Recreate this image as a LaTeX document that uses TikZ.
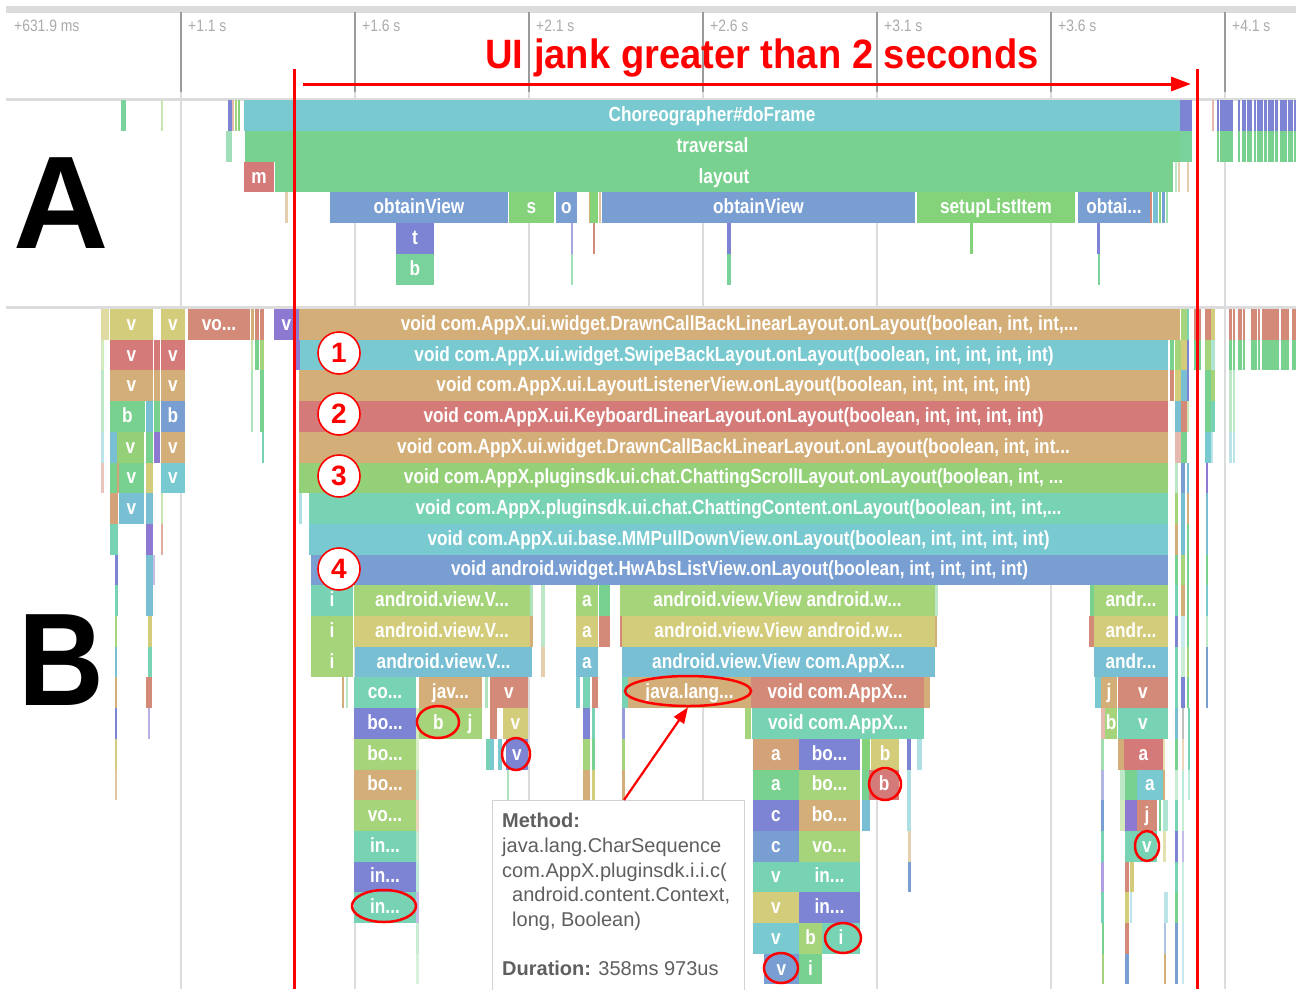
\documentclass[tikz,border=0pt]{standalone}
\usepackage{fontspec}
\setmainfont{Liberation Sans}
\newfontfamily\condfont[FakeStretch=0.84]{Liberation Sans}
\newfontfamily\titlefont[FakeStretch=0.93]{Liberation Sans}
\usetikzlibrary{shapes.geometric,arrows.meta}

% flame-chart palette
\definecolor{cCyan}{HTML}{78C9D0}
\definecolor{cGreen}{HTML}{79D18F}
\definecolor{cMint}{HTML}{79D19B}
\definecolor{cRed}{HTML}{D47A78}
\definecolor{cSalmon}{HTML}{D48A78}
\definecolor{cTan}{HTML}{D4AE78}
\definecolor{cOrange}{HTML}{D4A278}
\definecolor{cBlue}{HTML}{799ED2}
\definecolor{cIndigo}{HTML}{7C84D3}
\definecolor{cViolet}{HTML}{8D79D1}
\definecolor{cLime}{HTML}{84D27A}
\definecolor{cLGreen}{HTML}{94D078}
\definecolor{cYG}{HTML}{A6D47A}
\definecolor{cOlive}{HTML}{D3CC7A}
\definecolor{cCB}{HTML}{79BFD3}
\definecolor{cTeal}{HTML}{78D2B4}
\definecolor{jank}{HTML}{FF0000}
\definecolor{tickgray}{HTML}{9A9A9A}
\definecolor{gridgray}{HTML}{DCDCDC}
\definecolor{labelgray}{HTML}{ABABAB}
\definecolor{tiptext}{HTML}{5F5F5F}

\newcommand\lblfont{\condfont\bfseries\fontsize{20.5}{20.5}\selectfont}
\newcounter{fbn}

% section A rows start at 100, section B rows at 309
\newcommand\barA[5]{\fill[#4] (#1,{100+(#3)*30.8}) rectangle (#2,{100+(#3+1)*30.8});
  \stepcounter{fbn}\node[lbl] (fb\arabic{fbn}) at ({(#1+#2)/2},{100+(#3+0.5)*30.8+6}) {#5};}
\newcommand\slA[4]{\fill[#4] (#1,{100+(#3)*30.8}) rectangle (#2,{100+(#3+1)*30.8});}
\newcommand\barB[5]{\fill[#4] (#1,{309+(#3)*30.7}) rectangle (#2,{309+(#3+1)*30.7});
  \stepcounter{fbn}\node[lbl] (fb\arabic{fbn}) at ({(#1+#2)/2},{309+(#3+0.5)*30.7+6}) {#5};}
\newcommand\slB[4]{\fill[#4] (#1,{309+(#3)*30.7}) rectangle (#2,{309+(#3+1)*30.7});}

\begin{document}
\begin{tikzpicture}[x=1pt,y=-1pt,
  lbl/.style={text=white,font=\lblfont,inner sep=0pt,anchor=base},
  ticklbl/.style={text=labelgray,font=\condfont\fontsize{16.5}{16.5}\selectfont,anchor=base west,inner sep=0pt},
  numc/.style={circle,draw=jank,line width=1.6pt,fill=white,minimum size=42pt,inner sep=0pt,
    text=jank,font=\bfseries\fontsize{28}{28}\selectfont},
  ring/.style={ellipse,draw=jank,line width=2.5pt,inner sep=0pt},
  tiptxt/.style={text=tiptext,font=\fontsize{20}{20}\selectfont,anchor=base west,inner sep=0pt},
  bigletter/.style={font=\bfseries\fontsize{132}{132}\selectfont,inner sep=0pt,anchor=base}]

\useasboundingbox (0,0) rectangle (1296,989);
\clip (0,0) rectangle (1296,989);
\fill[white] (0,0) rectangle (1296,989);

% ---- time axis ----
\fill[gridgray] (6,6) rectangle (1296,12.5);
\foreach \x in {181,355,529,703,877,1051,1225}{
  \draw[tickgray,line width=1.3pt] (\x,12) -- (\x,92);
  \draw[gridgray,line width=1.3pt] (\x,92) -- (\x,989);
}
\node[ticklbl] (t0) at (14,31) {+631.9 ms};
\node[ticklbl] (t1) at (188,31) {+1.1 s};
\node[ticklbl] (t2) at (362,31) {+1.6 s};
\node[ticklbl] (t3) at (536,31) {+2.1 s};
\node[ticklbl] (t4) at (710,31) {+2.6 s};
\node[ticklbl] (t5) at (884,31) {+3.1 s};
\node[ticklbl] (t6) at (1058,31) {+3.6 s};
\node[ticklbl] (t7) at (1232,31) {+4.1 s};
\fill[gridgray] (6,97.5) rectangle (1296,100.5);
\fill[gridgray] (6,305.5) rectangle (1296,308.5);

% ---- section A: main thread frame ----
\slA{121}{126}{0}{cMint}
\slA{161}{163}{0}{cYG!60}
\slA{228}{232}{0}{cIndigo}
\slA{232}{234}{0}{cSalmon!60}
\slA{235}{237}{0}{cYG}
\slA{238}{240}{0}{cLime}
\barA{244}{1180}{0}{cCyan}{Choreographer\#doFrame}
\slA{1180}{1192}{0}{cIndigo}
\slA{1212}{1214}{0}{cSalmon!60}
\foreach \a/\b in {1217/1219,1220/1233,1238/1240,1242/1246,1247/1252,1254/1256,1257/1263,1264/1267,1268/1274,1275/1278,1280/1287,1288/1293,1294/1296}{
  \slA{\a}{\b}{0}{cIndigo}
  \slA{\a}{\b}{1}{cGreen}
}
\slA{226}{232}{1}{cMint!70}
\barA{245}{1180}{1}{cGreen}{traversal}
\slA{1180}{1192}{1}{cMint}
\barA{244}{274}{2}{cRed}{m}
\barA{275}{1173}{2}{cGreen}{layout}
\slA{1175}{1177}{2}{cGreen!50}
\slA{1178}{1180}{2}{cTan!60}
\slA{1187}{1189}{2}{cTan!60}
\slA{285}{288}{3}{cTan!60}
\barA{330}{508}{3}{cBlue}{obtainView}
\barA{509}{554}{3}{cLime}{s}
\barA{556}{577}{3}{cBlue}{o}
\slA{589}{590}{3}{cTan}
\slA{590}{598}{3}{cLime}
\slA{599}{601}{3}{cTan!70}
\barA{602}{915}{3}{cBlue}{obtainView}
\barA{917}{1075}{3}{cLime}{setupListItem}
\barA{1078}{1150}{3}{cBlue}{obtai...}
\slA{1150}{1152}{3}{cSalmon}
\slA{1153}{1158}{3}{cCB}
\slA{1159}{1161}{3}{cLime}
\slA{1162}{1165}{3}{cBlue}
\slA{1166}{1168}{3}{cGreen!70}
\barA{396}{434}{4}{cIndigo}{t}
\barA{396}{434}{5}{cMint}{b}
\slA{571}{573}{4}{cIndigo!70}
\slA{571}{573}{5}{cMint!70}
\slA{593}{595}{4}{cSalmon}
\slA{727}{731}{4}{cIndigo}
\slA{727}{731}{5}{cMint}
\slA{970}{973}{4}{cLime}
\slA{1097}{1100}{4}{cIndigo}
\slA{1098}{1100}{5}{cMint}

% ---- section B: method trace ----
% left cluster
\slB{101}{109}{0}{cOlive!70}
\slB{101}{104}{1}{cYG!50}
\slB{101}{104}{2}{cGreen!50}
\slB{101}{104}{3}{cGreen!50}
\slB{101}{104}{4}{cCyan!50}
\slB{101}{104}{5}{cSalmon!50}
\barB{110}{153}{0}{cOlive}{v}
\barB{161}{185}{0}{cOlive}{v}
\barB{188}{250}{0}{cSalmon}{vo...}
\slB{251}{254}{0}{cTan}
\slB{255}{259}{0}{cSalmon}
\slB{260}{264}{0}{cSalmon}
\barB{274}{299}{0}{cViolet}{v}
\barB{110}{153}{1}{cRed}{v}
\slB{154}{160}{1}{cRed}
\barB{161}{185}{1}{cRed}{v}
\slB{251}{253}{1}{cYG!60}
\slB{255}{259}{1}{cGreen}
\slB{260}{264}{1}{cYG}
\slB{295}{300}{1}{cViolet}
\barB{110}{153}{2}{cTan}{v}
\slB{154}{160}{2}{cTan}
\barB{161}{185}{2}{cTan}{v}
\slB{251}{253}{2}{cGreen!60}
\slB{260}{264}{2}{cGreen}
\barB{110}{145}{3}{cGreen}{b}
\slB{146}{153}{3}{cCB}
\slB{154}{160}{3}{cGreen}
\barB{161}{185}{3}{cBlue}{b}
\slB{251}{253}{3}{cGreen!60}
\slB{260}{264}{3}{cGreen}
\slB{110}{117}{4}{cCB}
\barB{117}{144}{4}{cLGreen}{v}
\slB{146}{153}{4}{cGreen}
\slB{154}{160}{4}{cViolet}
\barB{161}{185}{4}{cTan}{v}
\slB{262}{264}{4}{cTeal}
\slB{110}{117}{5}{cGreen}
\slB{117}{119}{5}{cOrange}
\barB{119}{144}{5}{cGreen}{v}
\slB{146}{153}{5}{cOlive}
\barB{161}{185}{5}{cCyan}{v}
\slB{110}{118}{6}{cOrange}
\barB{119}{144}{6}{cCB}{v}
\slB{146}{153}{6}{cCB}
\slB{161}{163}{6}{cYG!60}
\slB{110}{118}{7}{cTeal}
\slB{146}{153}{7}{cViolet}
\slB{161}{163}{7}{cSalmon!70}
\slB{115}{118}{8}{cIndigo}
\slB{146}{153}{8}{cCB}
\slB{153}{155}{8}{cViolet!50}
\slB{115}{118}{9}{cTeal}
\slB{146}{153}{9}{cCB}
\slB{115}{117}{10}{cYG}
\slB{148}{152}{10}{cOlive}
\slB{115}{117}{11}{cCB}
\slB{148}{152}{11}{cTeal}
\slB{115}{117}{12}{cTan}
\slB{146}{152}{12}{cSalmon}
\slB{115}{117}{13}{cIndigo}
\slB{148}{150}{13}{cViolet!60}
\slB{115}{117}{14}{cOlive}
\slB{115}{117}{15}{cTan!70}

% deep stack of onLayout calls
\barB{299}{1180}{0}{cTan}{void com.AppX.ui.widget.DrawnCallBackLinearLayout.onLayout(boolean, int, int,...}
\barB{300}{1168}{1}{cCyan}{void com.AppX.ui.widget.SwipeBackLayout.onLayout(boolean, int, int, int, int)}
\barB{299}{1168}{2}{cTan}{void com.AppX.ui.LayoutListenerView.onLayout(boolean, int, int, int, int)}
\barB{299}{1168}{3}{cRed}{void com.AppX.ui.KeyboardLinearLayout.onLayout(boolean, int, int, int, int)}
\barB{299}{1168}{4}{cTan}{void com.AppX.ui.widget.DrawnCallBackLinearLayout.onLayout(boolean, int, int...}
\barB{299}{1168}{5}{cLGreen}{void com.AppX.pluginsdk.ui.chat.ChattingScrollLayout.onLayout(boolean, int, ...}
\slB{299}{302}{6}{cCyan!60}
\barB{309}{1168}{6}{cTeal}{void com.AppX.pluginsdk.ui.chat.ChattingContent.onLayout(boolean, int, int,...}
\barB{309}{1168}{7}{cCyan}{void com.AppX.ui.base.MMPullDownView.onLayout(boolean, int, int, int, int)}
\barB{311}{1168}{8}{cBlue}{void android.widget.HwAbsListView.onLayout(boolean, int, int, int, int)}

% list children, left column
\barB{311}{353}{9}{cTeal}{i}
\barB{354}{530}{9}{cYG}{android.view.V...}
\slB{530}{533}{9}{cGreen!60}
\slB{541}{545}{9}{cGreen!50}
\barB{311}{353}{10}{cYG}{i}
\barB{354}{530}{10}{cOlive}{android.view.V...}
\slB{530}{533}{10}{cTan}
\slB{541}{545}{10}{cGreen!50}
\barB{311}{353}{11}{cYG}{i}
\barB{355}{532}{11}{cCB}{android.view.V...}
\slB{541}{545}{11}{cTan!60}
\slB{342}{344}{12}{cTan}
\slB{346}{348}{12}{cGreen!50}
\barB{354}{416}{12}{cTeal}{co...}
\barB{419}{482}{12}{cTan}{jav...}
\slB{485}{488}{12}{cGreen!60}
\barB{490}{528}{12}{cSalmon}{v}
\barB{354}{416}{13}{cIndigo}{bo...}
\barB{419}{458}{13}{cYG}{b}
\barB{458}{482}{13}{cYG}{j}
\slB{490}{497}{13}{cSalmon}
\barB{503}{528}{13}{cOlive}{v}
\barB{354}{416}{14}{cYG}{bo...}
\slB{486}{490}{14}{cTeal}
\slB{490}{494}{14}{cCyan}
\slB{498}{502}{14}{cCyan}
\barB{506}{528}{14}{cIndigo}{v}
\barB{354}{416}{15}{cTan}{bo...}
\slB{507}{509}{15}{cGreen!60}
\barB{354}{416}{16}{cYG}{vo...}
\barB{354}{416}{17}{cTeal}{in...}
\barB{354}{416}{18}{cIndigo}{in...}
\barB{354}{416}{19}{cTeal}{in...}
\foreach \r/\c in {13/cYG!50,14/cYG!40,15/cGreen!50,16/cTan!50,17/cGreen!40,18/cTeal!50,19/cViolet!50,20/cGreen!40,21/cGreen!30}{
  \slB{416}{419}{\r}{\c}
}

% list children, middle columns
\barB{576}{598}{9}{cYG}{a}
\slB{599}{610}{9}{cGreen}
\barB{576}{598}{10}{cOlive}{a}
\slB{599}{610}{10}{cSalmon}
\barB{576}{598}{11}{cCB}{a}
\slB{576}{580}{12}{cCyan}
\slB{583}{590}{12}{cTeal}
\slB{592}{598}{12}{cSalmon}
\slB{583}{590}{13}{cIndigo}
\slB{592}{595}{13}{cTeal}
\slB{583}{590}{14}{cYG}
\slB{592}{595}{14}{cGreen}
\slB{583}{590}{15}{cTan}
\slB{592}{595}{15}{cOlive}
\barB{620}{935}{9}{cYG}{android.view.View android.w...}
\slB{935}{938}{9}{cGreen!50}
\slB{620}{622}{10}{cSalmon}
\barB{622}{935}{10}{cOlive}{android.view.View android.w...}
\slB{935}{937}{10}{cTan}
\barB{622}{935}{11}{cCB}{android.view.View com.AppX...}
\slB{622}{628}{12}{cTeal}
\barB{628}{751}{12}{cTan}{java.lang...}
\barB{751}{924}{12}{cSalmon}{void com.AppX...}
\slB{924}{930}{12}{cTan}
\slB{622}{625}{13}{cIndigo!80}
\slB{622}{625}{14}{cYG}
\slB{622}{625}{15}{cTan}
\slB{745}{751}{13}{cYG}
\barB{752}{924}{13}{cTeal}{void com.AppX...}
\barB{753}{799}{14}{cOrange}{a}
\barB{799}{860}{14}{cIndigo}{bo...}
\slB{862}{870}{14}{cLime}
\barB{871}{899}{14}{cOlive}{b}
\barB{753}{799}{15}{cGreen}{a}
\barB{799}{860}{15}{cYG}{bo...}
\slB{862}{870}{15}{cGreen}
\barB{869}{899}{15}{cRed}{b}
\barB{753}{799}{16}{cIndigo}{c}
\barB{799}{860}{16}{cTan}{bo...}
\slB{862}{870}{16}{cCB}
\barB{753}{799}{17}{cBlue}{c}
\barB{799}{860}{17}{cYG}{vo...}
\barB{753}{799}{18}{cTeal}{v}
\barB{799}{860}{18}{cTeal}{in...}
\barB{753}{799}{19}{cOlive}{v}
\barB{799}{860}{19}{cIndigo}{in...}
\barB{753}{799}{20}{cCyan}{v}
\barB{799}{822}{20}{cYG}{b}
\barB{822}{860}{20}{cTeal}{i}
\barB{764}{799}{21}{cBlue}{v}
\barB{799}{822}{21}{cGreen}{i}
\slB{907}{911}{14}{cIndigo}
\slB{917}{922}{14}{cCyan!60}
\slB{907}{911}{15}{cCyan!60}
\slB{907}{911}{16}{cCyan!60}
\slB{908}{911}{17}{cTan!60}
\slB{908}{911}{18}{cBlue}

% list children, right column
\slB{1090}{1094}{9}{cGreen}
\barB{1094}{1168}{9}{cYG}{andr...}
\slB{1089}{1094}{10}{cSalmon}
\barB{1094}{1168}{10}{cOlive}{andr...}
\barB{1094}{1168}{11}{cCB}{andr...}
\slB{1095}{1101}{12}{cCyan}
\barB{1101}{1117}{12}{cTan}{j}
\barB{1118}{1168}{12}{cSalmon}{v}
\slB{1101}{1105}{13}{cSalmon!60}
\barB{1105}{1117}{13}{cYG}{b}
\barB{1118}{1168}{13}{cTeal}{v}
\slB{1101}{1104}{14}{cGreen!70}
\slB{1118}{1124}{14}{cTan}
\barB{1124}{1163}{14}{cRed}{a}
\slB{1163}{1165}{14}{cOlive!60}
\slB{1101}{1104}{15}{cIndigo!60}
\slB{1120}{1125}{15}{cGreen!50}
\slB{1125}{1137}{15}{cGreen}
\barB{1137}{1163}{15}{cCyan}{a}
\slB{1163}{1165}{15}{cTan}
\slB{1101}{1104}{16}{cBlue}
\slB{1120}{1125}{16}{cYG!50}
\slB{1125}{1137}{16}{cViolet}
\barB{1137}{1157}{16}{cSalmon}{j}
\slB{1159}{1161}{16}{cGreen}
\slB{1163}{1168}{16}{cTeal!60}
\slB{1101}{1104}{17}{cTeal}
\slB{1125}{1137}{17}{cTeal}
\barB{1137}{1157}{17}{cTeal}{v}
\slB{1163}{1166}{17}{cOlive!60}
\slB{1101}{1104}{18}{cViolet!70}
\slB{1125}{1129}{18}{cSalmon}
\slB{1130}{1134}{18}{cOlive}
\slB{1101}{1104}{19}{cTeal}
\slB{1125}{1129}{19}{cOlive}
\slB{1130}{1132}{19}{cCyan!50}
\slB{1164}{1168}{19}{cCyan!50}
\slB{1102}{1104}{20}{cGreen}
\slB{1125}{1129}{20}{cSalmon}
\slB{1164}{1166}{20}{cBlue!60}
\slB{1102}{1104}{21}{cYG}
\slB{1125}{1129}{21}{cBlue}
\slB{1164}{1166}{21}{cTan}

% thin calls near the end of the frame
\slB{1181}{1187}{0}{cYG}
\slB{1187}{1189}{0}{cTeal}
\slB{1194}{1201}{0}{cSalmon}
\slB{1205}{1211}{0}{cSalmon}
\slB{1211}{1215}{0}{cOlive}
\slB{1170}{1174}{1}{cGreen}
\slB{1175}{1181}{1}{cYG}
\slB{1181}{1187}{1}{cOlive}
\slB{1187}{1189}{1}{cIndigo}
\slB{1194}{1201}{1}{cGreen}
\slB{1205}{1211}{1}{cYG}
\slB{1211}{1215}{1}{cTeal!60}
\slB{1170}{1174}{2}{cSalmon}
\slB{1175}{1181}{2}{cOlive}
\slB{1181}{1187}{2}{cCB}
\slB{1187}{1189}{2}{cIndigo}
\slB{1205}{1211}{2}{cGreen}
\slB{1211}{1215}{2}{cYG}
\slB{1175}{1181}{3}{cCB}
\slB{1181}{1187}{3}{cSalmon}
\slB{1187}{1189}{3}{cYG!60}
\slB{1205}{1211}{3}{cGreen}
\slB{1211}{1215}{3}{cTeal}
\slB{1175}{1181}{4}{cSalmon!60}
\slB{1181}{1187}{4}{cGreen}
\slB{1205}{1211}{4}{cCyan}
\slB{1211}{1213}{4}{cCyan!50}
\foreach \r/\ca/\cb/\cc/\cd in {5/cGreen!50/cBlue/cCB/cViolet,6/cYG/cCB/cTan/cCB,7/cTan/cCB/cGreen/cCB,8/cGreen/cYG/cGreen/cGreen,
  9/cTeal/cTan/cGreen/cCyan,10/cIndigo/cCyan!40/cGreen/cGreen!50,11/cTeal/cGreen!40/cYG/cBlue,12/cTeal/cIndigo/cGreen/cBlue}{
  \slB{1175}{1178}{\r}{\ca}
  \slB{1181}{1185}{\r}{\cb}
  \slB{1187}{1189}{\r}{\cc}
  \slB{1206}{1208}{\r}{\cd}
}
\foreach \r/\ca/\cb/\cc in {13/cCB/gray!50/cTeal,14/cGreen/cTan!50/cTeal,15/cGreen!40/cTeal!50/cTeal!50,16/cTeal/cGreen!40/white,
  17/cIndigo/cViolet!50/white,18/cTeal/cTeal!40/white,19/cGreen/cTeal!40/white,20/cBlue/cCyan!40/white,21/cBlue/cCyan!40/white}{
  \slB{1175}{1178}{\r}{\ca}
  \slB{1182}{1184}{\r}{\cb}
  \slB{1188}{1190}{\r}{\cc}
}
\foreach \a/\b in {1229/1232,1233/1235,1238/1242,1243/1245,1251/1257,1258/1260,1262/1279,1281/1289,1292/1296}{
  \slB{\a}{\b}{0}{cSalmon}
  \slB{\a}{\b}{1}{cGreen}
}
\slB{1229}{1232}{2}{cGreen!50}
\slB{1233}{1235}{2}{cGreen!50}
\slB{1229}{1232}{3}{cGreen!50}
\slB{1233}{1235}{3}{cGreen!50}
\slB{1229}{1232}{4}{cCyan!50}
\slB{1233}{1235}{4}{cCyan!50}

% section letters
\node[bigletter] (secA) at (61,248) {A};
\node[bigletter,xscale=0.9] (secB) at (61,705) {B};

% numbered markers
\node[numc] (n1) at (339,353) {1};
\node[numc] (n2) at (339,414) {2};
\node[numc] (n3) at (339,476) {3};
\node[numc] (n4) at (339,569) {4};

% highlighted calls
\node[ring,minimum width=42pt,minimum height=32pt] (h1) at (438,722) {};
\node[ring,minimum width=28pt,minimum height=32pt] (h2) at (516,754) {};
\node[ring,minimum width=64pt,minimum height=32pt] (h3) at (384,906) {};
\node[ring,minimum width=126pt,minimum height=30pt] (jl) at (688,691) {};
\node[ring,minimum width=32pt,minimum height=32pt] (h5) at (885,784) {};
\node[ring,minimum width=36pt,minimum height=30pt] (h6) at (843,938) {};
\node[ring,minimum width=34pt,minimum height=30pt] (h7) at (781,968) {};
\node[ring,minimum width=24pt,minimum height=30pt] (h8) at (1147,846) {};

% tooltip
\node[draw=gray!35,line width=1pt,fill=white,anchor=north west,minimum width=252pt,minimum height=200pt,inner sep=0pt] (tip) at (492,800) {};
\node[tiptxt] (m0) at (502,827) {\textbf{Method:}};
\node[tiptxt] (m1) at (502,852) {java.lang.CharSequence};
\node[tiptxt] (m2) at (502,877) {com.AppX.pluginsdk.i.i.c(};
\node[tiptxt] (m3) at (512,901) {android.content.Context,};
\node[tiptxt] (m4) at (512,926) {long, Boolean)};
\node[tiptxt] (m5) at (502,975) {\textbf{Duration:} 358ms 973us};
\coordinate (tipA) at (624,800);
\draw[jank,line width=2.2pt,-{Triangle[length=16pt,width=12pt]}] (tipA) -- (jl.south);

% jank window
\coordinate (lineLt) at (294,69);
\coordinate (lineLb) at (294,989);
\coordinate (lineRt) at (1197,69);
\coordinate (lineRb) at (1197,989);
\draw[jank,line width=3pt] (lineLt) -- (lineLb);
\draw[jank,line width=3pt] (lineRt) -- (lineRb);
\coordinate (jankL) at (303,84);
\coordinate (jankR) at (1191,84);
\draw[jank,line width=3pt,-{Triangle[length=20pt,width=14pt]}] (jankL) -- (jankR);
\node[text=jank,font=\titlefont\bfseries\fontsize{41}{41}\selectfont,anchor=base,inner sep=0pt] (title) at (762,68) {UI jank greater than 2 seconds};
\end{tikzpicture}
\end{document}
